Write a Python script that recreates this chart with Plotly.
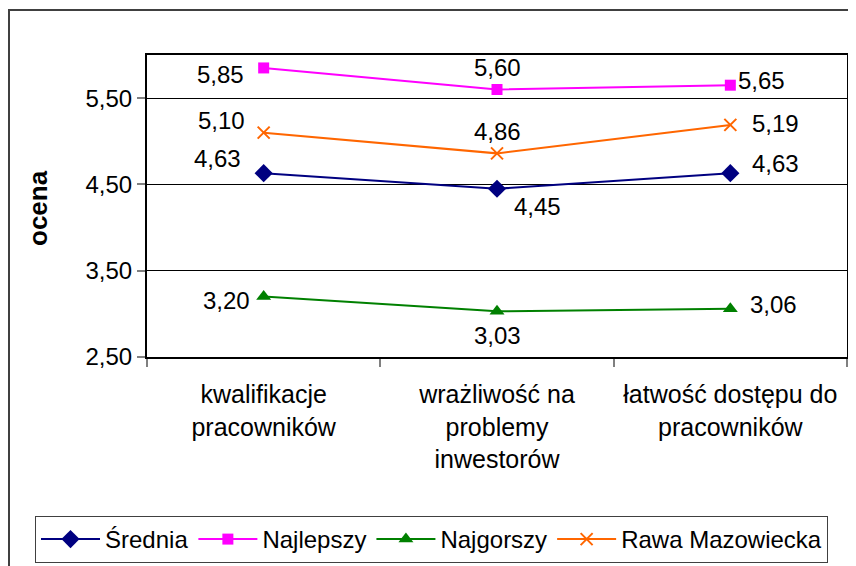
import plotly.graph_objects as go

categories = ["kwalifikacje<br>pracowników", "wrażliwość na<br>problemy<br>inwestorów", "łatwość dostępu do<br>pracowników"]
srednia = [4.63, 4.45, 4.63]
najlepszy = [5.85, 5.60, 5.65]
najgorszy = [3.20, 3.03, 3.06]
rawa = [5.10, 4.86, 5.19]
y_ticks = [2.5, 3.5, 4.5, 5.5]

FONT = "Liberation Sans, Arial, sans-serif"
FS = 24
FSX = 25

series = [
    ("Średnia", srednia, "#000080", dict(symbol="diamond", size=14)),
    ("Najlepszy", najlepszy, "#FF00FF", dict(symbol="square", size=11)),
    ("Najgorszy", najgorszy, "#008000", dict(symbol="triangle-up", size=13)),
    ("Rawa Mazowiecka", rawa, "#FF6600", dict(symbol="x-thin", size=12, line=dict(width=2, color="#FF6600"))),
]

# label offsets (px): (dx, dy) where dy positive = up
offsets = {
    "Średnia": [(-46, 15), (40, -18), (45, 10)],
    "Najlepszy": [(-43, -7), (0, 22), (31, 5)],
    "Najgorszy": [(-37, -4), (0, -24), (43, 4)],
    "Rawa Mazowiecka": [(-42, 12), (0, 22), (45, 1)],
}

fig = go.Figure()
annotations = []
for name, vals, color, mk in series:
    fig.add_trace(go.Scatter(
        x=categories, y=vals, name=name, mode="lines+markers",
        line=dict(color=color, width=2),
        marker=dict(color=color, **mk),
    ))
    for i, (c, v) in enumerate(zip(categories, vals)):
        dx, dy = offsets[name][i]
        annotations.append(dict(
            x=c, y=v, xref="x", yref="y", text=f"{v:.2f}".replace(".", ","),
            showarrow=False, xshift=dx, yshift=dy,
            font=dict(family=FONT, size=FS, color="black"),
        ))

# page body has an 8px margin: screenshot coords = figure coords + 8
OFF = 8
W, H = 856 - OFF, 566 - OFF
PL, PR, PT, PB = 147 - OFF, 847 - OFF, 55 - OFF, 357 - OFF
L, R, T, B = PL, W - PR, PT, H - PB
pw, ph = PR - PL, PB - PT

def px(sx):
    return (sx - OFF - PL) / pw

def py(sy):
    return (PB - (sy - OFF)) / ph

annotations.append(dict(
    x=px(38), y=py(208), xref="paper", yref="paper", text="<b>ocena</b>",
    showarrow=False, textangle=-90, xanchor="center", yanchor="middle",
    font=dict(family=FONT, size=26, color="black"),
))

fig.update_layout(
    width=W, height=H,
    margin=dict(l=L, r=R, t=T, b=B, autoexpand=False),
    paper_bgcolor="white", plot_bgcolor="white",
    separators=", ",
    font=dict(family=FONT, size=FS, color="black"),
    showlegend=True,
    legend=dict(
        orientation="h", xref="paper", yref="paper",
        x=px(35), y=py(516),
        xanchor="left", yanchor="top",
        bordercolor="#404040", borderwidth=1,
        font=dict(family=FONT, size=FS, color="black"),
        itemwidth=59, tracegroupgap=0,
    ),
    annotations=annotations,
    shapes=[dict(
        type="rect", xref="paper", yref="paper",
        x0=px(9), x1=px(870),
        y0=py(580), y1=py(10),
        line=dict(color="#404040", width=2), fillcolor="rgba(0,0,0,0)", layer="below",
    )],
)

fig.update_xaxes(
    type="category", range=[-0.5, 2.5], automargin=False,
    showgrid=False, showline=True, linecolor="black", linewidth=2,
    mirror=True, ticks="outside", tickson="boundaries", ticklen=8, tickcolor="#808080",
    tickwidth=2, tickfont=dict(family=FONT, size=FSX, color="black"),
    ticklabelstandoff=14,
)
fig.update_yaxes(
    range=[2.5, 6.0], tickvals=y_ticks, tickformat=".2f", automargin=False,
    showgrid=True, gridcolor="black", gridwidth=1,
    showline=True, linecolor="black", linewidth=2, mirror=True,
    ticks="outside", ticklen=8, tickcolor="#808080", tickwidth=2,
    tickfont=dict(family=FONT, size=FS, color="black"), zeroline=False,
)

fig.write_html("out.html")
